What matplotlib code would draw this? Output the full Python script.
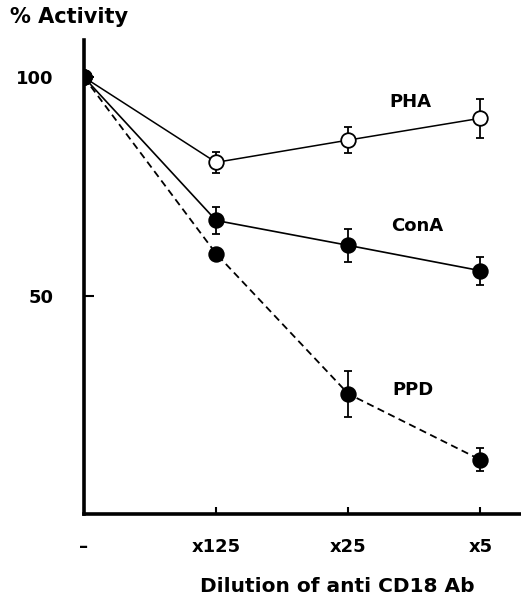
import matplotlib.pyplot as plt

# dilution steps of the anti CD18 antibody
doses = ['–', 'x125', 'x25', 'x5']
pos = [0, 1, 2, 3]

pha = [100, 80.5, 85.6, 90.6]
pha_err = [0, 2.4, 2.9, 4.5]
cona = [100, 67.2, 61.5, 55.7]
cona_err = [0, 3.1, 3.7, 3.2]
ppd = [100, 59.6, 27.5, 12.4]
ppd_err = [0, 0, 5.2, 2.6]

plt.rcParams['font.family'] = ['DejaVu Sans']
plt.rcParams['font.weight'] = 'bold'

fig = plt.figure(figsize=(5.21, 5.98), dpi=100)
ax = fig.add_axes([0.161, 0.1405, 0.845, 0.7925])

eb = dict(capsize=3, capthick=1.5, elinewidth=1.3, ms=10.5, mew=1.3, zorder=3)
ax.errorbar(pos, pha, yerr=pha_err, fmt='-o', color='black', mfc='white', lw=1.1, **eb)
ax.errorbar(pos, cona, yerr=cona_err, fmt='-o', color='black', mfc='black', lw=1.2, **eb)
ax.errorbar(pos, ppd, yerr=ppd_err, fmt='--o', color='black', mfc='black', lw=1.3,
            dashes=(4, 2.5), **eb)

ax.text(2.47, 94.3, 'PHA', fontsize=13, fontweight='bold', ha='center', va='center')
ax.text(2.52, 66, 'ConA', fontsize=13, fontweight='bold', ha='center', va='center')
ax.text(2.49, 28.4, 'PPD', fontsize=13, fontweight='bold', ha='center', va='center')

ax.set_xlim(0, 3.33)
ax.set_ylim(0, 108.5)
ax.set_xticks(pos)
ax.set_xticklabels(doses)
ax.set_yticks([50, 100])
ax.set_yticklabels(['50', '100'])
ax.tick_params(axis='x', direction='in', length=5, width=1.5, pad=17, labelsize=13)
ax.tick_params(axis='y', direction='in', length=7, width=1.5, pad=22, labelsize=13)
for lab in ax.get_xticklabels() + ax.get_yticklabels():
    lab.set_fontweight('bold')

ax.spines['top'].set_visible(False)
ax.spines['right'].set_visible(False)
ax.spines['left'].set_linewidth(2.6)
ax.spines['bottom'].set_linewidth(2.6)

fig.text(10 / 521, 1 - 17 / 598, '% Activity', fontsize=15, fontweight='bold',
         ha='left', va='center')
fig.text(337 / 521, 1 - 586 / 598, 'Dilution of anti CD18 Ab', fontsize=14.5,
         fontweight='bold', ha='center', va='center')

fig.savefig('out.png', dpi=100)
